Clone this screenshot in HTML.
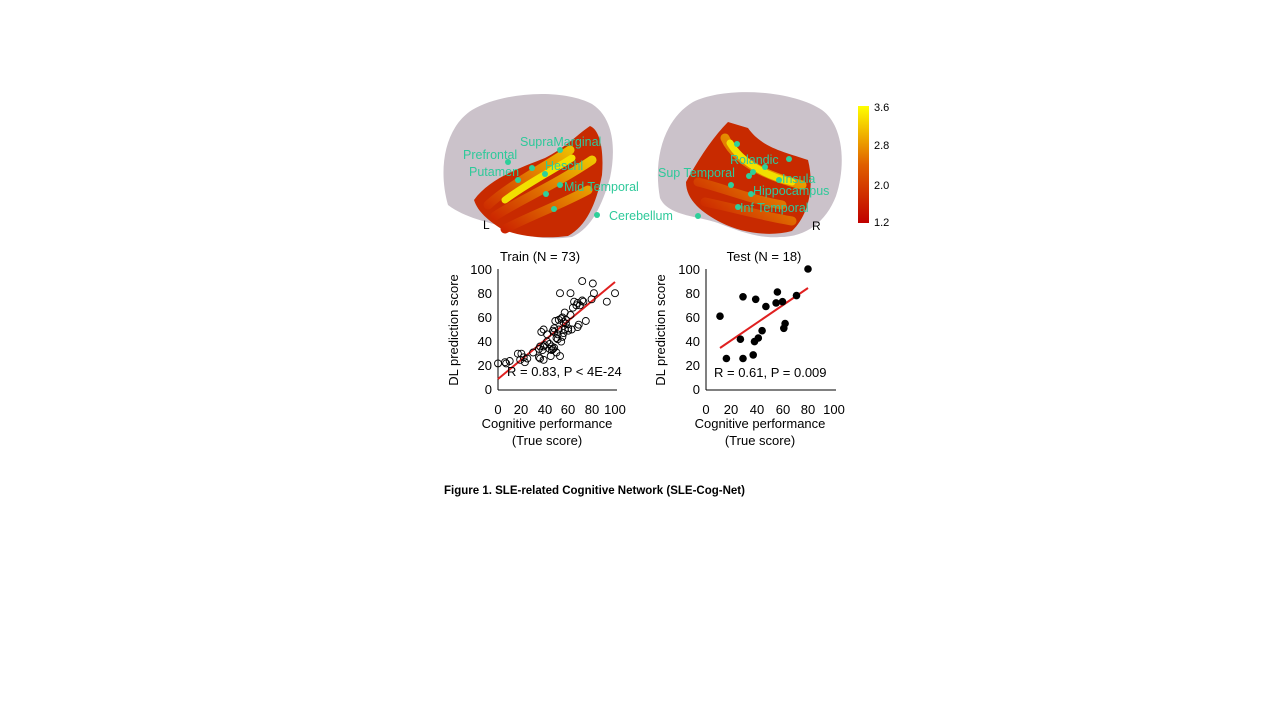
<!DOCTYPE html>
<html><head><meta charset="utf-8"><style>
html,body{margin:0;padding:0;background:#fff;}
svg{display:block;font-family:"Liberation Sans",sans-serif;}
</style></head><body>
<svg width="1280" height="720" viewBox="0 0 1280 720" xmlns="http://www.w3.org/2000/svg">
<defs>
<linearGradient id="cb" x1="0" y1="1" x2="0" y2="0">
<stop offset="0" stop-color="#c00000"/><stop offset="0.5" stop-color="#e06000"/><stop offset="1" stop-color="#ffff00"/>
</linearGradient>
<linearGradient id="act" x1="0" y1="1" x2="1" y2="0">
<stop offset="0" stop-color="#c81800"/><stop offset="0.5" stop-color="#e07000"/><stop offset="1" stop-color="#f0d000"/>
</linearGradient>
</defs>
<!-- Left brain -->
<path d="M448,205 C438,170 444,128 472,110 C502,92 562,88 592,104 C614,118 616,150 610,178 C602,205 592,228 572,237 C550,240 525,238 508,228 C488,222 465,218 448,205 Z" fill="#cbc2ca"/>
<path d="M474,200 C490,178 520,168 545,158 C565,148 578,134 590,126 C600,130 604,150 602,175 C596,205 586,226 568,236 C545,239 518,237 500,228 C488,220 478,212 474,200 Z" fill="#c82a00"/>
<path d="M488,205 C510,185 540,170 570,150 M495,216 C520,200 555,185 592,160 M505,229 C530,216 560,205 588,190" stroke="url(#act)" stroke-width="9" fill="none" stroke-linecap="round"/>
<path d="M505,200 C525,185 545,175 572,158" stroke="#f2e000" stroke-width="7" fill="none" stroke-linecap="round"/>
<!-- Right brain -->
<path d="M660,198 C653,160 663,120 693,102 C725,86 792,90 822,110 C844,126 846,166 836,196 C826,222 806,237 780,237 C760,239 738,231 718,223 C698,216 668,216 660,198 Z" fill="#cbc2ca"/>
<path d="M686,182 C698,160 712,138 728,122 L748,128 C762,148 785,152 808,160 C815,188 808,216 792,231 C770,237 742,233 722,223 C702,213 686,200 686,182 Z" fill="#c82a00"/>
<path d="M698,182 C720,187 752,200 782,205 M705,202 C730,207 762,216 792,221 M725,138 C735,160 762,175 802,185" stroke="url(#act)" stroke-width="9" fill="none" stroke-linecap="round"/>
<path d="M730,143 C740,160 762,175 792,182" stroke="#f2e000" stroke-width="7" fill="none" stroke-linecap="round"/>
<!-- dots -->
<g fill="#2ecf9a">
<circle cx="560" cy="150" r="3"/><circle cx="508" cy="162" r="3"/><circle cx="532" cy="168" r="3"/><circle cx="545" cy="174" r="3"/><circle cx="518" cy="180" r="3"/><circle cx="560" cy="185" r="3"/><circle cx="546" cy="194" r="3"/><circle cx="554" cy="209" r="3"/>
<circle cx="597" cy="215" r="3"/><circle cx="698" cy="216" r="3"/>
<circle cx="737" cy="144" r="3"/><circle cx="789" cy="159" r="3"/><circle cx="765" cy="167" r="3"/><circle cx="753" cy="172" r="3"/><circle cx="749" cy="176" r="3"/><circle cx="779" cy="180" r="3"/><circle cx="731" cy="185" r="3"/><circle cx="751" cy="194" r="3"/><circle cx="738" cy="207" r="3"/>
</g>
<g fill="#2ec99a" font-size="12.5">
<text x="520" y="146">SupraMarginal</text>
<text x="463" y="159">Prefrontal</text>
<text x="469" y="176">Putamen</text>
<text x="545" y="170">Heschl</text>
<text x="564" y="191">Mid Temporal</text>
<text x="609" y="220">Cerebellum</text>
<text x="730" y="164">Rolandic</text>
<text x="658" y="177">Sup Temporal</text>
<text x="782" y="183">Insula</text>
<text x="753" y="195">Hippocampus</text>
<text x="740" y="212">Inf Temporal</text>
</g>
<text x="483" y="229" font-size="12" fill="#000">L</text>
<text x="812" y="230" font-size="12" fill="#000">R</text>
<rect x="858" y="106" width="11" height="117" fill="url(#cb)"/>
<g font-size="11" fill="#000">
<text x="874" y="111">3.6</text><text x="874" y="149">2.8</text><text x="874" y="189">2.0</text><text x="874" y="226">1.2</text>
</g>
<g font-size="13" fill="#000">
<text x="540" y="261" text-anchor="middle">Train (N = 73)</text>
<text x="764" y="261" text-anchor="middle">Test (N = 18)</text>
</g>
<g stroke="#000" stroke-width="1">
<line x1="498" y1="269" x2="498" y2="390"/><line x1="498" y1="390" x2="617" y2="390"/>
<line x1="706" y1="269" x2="706" y2="390"/><line x1="706" y1="390" x2="836" y2="390"/>
</g>
<g font-size="13" fill="#000" text-anchor="end">
<text x="492" y="394">0</text><text x="492" y="370">20</text><text x="492" y="346">40</text><text x="492" y="322">60</text><text x="492" y="298">80</text><text x="492" y="274">100</text>
<text x="700" y="394">0</text><text x="700" y="370">20</text><text x="700" y="346">40</text><text x="700" y="322">60</text><text x="700" y="298">80</text><text x="700" y="274">100</text>
</g>
<g font-size="13" fill="#000" text-anchor="middle">
<text x="498" y="414">0</text><text x="521" y="414">20</text><text x="545" y="414">40</text><text x="568" y="414">60</text><text x="592" y="414">80</text><text x="615" y="414">100</text>
<text x="706" y="414">0</text><text x="731" y="414">20</text><text x="757" y="414">40</text><text x="783" y="414">60</text><text x="808" y="414">80</text><text x="834" y="414">100</text>
<text x="547" y="428">Cognitive performance</text><text x="547" y="445">(True score)</text>
<text x="760" y="428">Cognitive performance</text><text x="760" y="445">(True score)</text>
<text transform="translate(458,330) rotate(-90)">DL prediction score</text>
<text transform="translate(665,330) rotate(-90)">DL prediction score</text>
</g>
<line x1="498" y1="379" x2="615" y2="282" stroke="#e02020" stroke-width="2"/>
<line x1="720" y1="348" x2="808" y2="288" stroke="#e02020" stroke-width="2"/>
<g font-size="13" fill="#000">
<text x="507" y="376">R = 0.83,  P &lt; 4E-24</text>
<text x="714" y="377">R = 0.61,  P = 0.009</text>
</g>
<text x="444" y="494" font-size="11.5" font-weight="bold" fill="#000">Figure 1. SLE-related Cognitive Network (SLE-Cog-Net)</text>
<g fill="none" stroke="#000" stroke-width="0.9">
<circle cx="498.0" cy="363.4" r="3.5"/><circle cx="505.0" cy="362.2" r="3.5"/><circle cx="506.2" cy="363.4" r="3.5"/><circle cx="509.7" cy="361.0" r="3.5"/><circle cx="517.9" cy="353.7" r="3.5"/><circle cx="520.2" cy="359.8" r="3.5"/><circle cx="521.4" cy="353.7" r="3.5"/><circle cx="523.7" cy="357.3" r="3.5"/><circle cx="524.9" cy="362.2" r="3.5"/><circle cx="533.1" cy="352.5" r="3.5"/><circle cx="539.0" cy="357.3" r="3.5"/><circle cx="540.1" cy="358.5" r="3.5"/><circle cx="540.1" cy="346.4" r="3.5"/><circle cx="541.3" cy="331.9" r="3.5"/><circle cx="543.6" cy="359.8" r="3.5"/><circle cx="543.6" cy="346.4" r="3.5"/><circle cx="543.6" cy="329.5" r="3.5"/><circle cx="547.1" cy="334.3" r="3.5"/><circle cx="549.5" cy="348.9" r="3.5"/><circle cx="550.7" cy="356.1" r="3.5"/><circle cx="551.8" cy="346.4" r="3.5"/><circle cx="553.0" cy="348.9" r="3.5"/><circle cx="553.0" cy="330.7" r="3.5"/><circle cx="554.2" cy="347.7" r="3.5"/><circle cx="554.2" cy="328.3" r="3.5"/><circle cx="555.3" cy="321.0" r="3.5"/><circle cx="556.5" cy="338.0" r="3.5"/><circle cx="556.5" cy="352.5" r="3.5"/><circle cx="557.7" cy="334.3" r="3.5"/><circle cx="557.7" cy="339.2" r="3.5"/><circle cx="558.8" cy="319.8" r="3.5"/><circle cx="560.0" cy="356.1" r="3.5"/><circle cx="560.0" cy="293.2" r="3.5"/><circle cx="561.2" cy="341.6" r="3.5"/><circle cx="561.2" cy="318.6" r="3.5"/><circle cx="562.4" cy="317.4" r="3.5"/><circle cx="563.5" cy="333.1" r="3.5"/><circle cx="564.7" cy="312.6" r="3.5"/><circle cx="564.7" cy="329.5" r="3.5"/><circle cx="565.9" cy="319.8" r="3.5"/><circle cx="568.2" cy="330.7" r="3.5"/><circle cx="568.2" cy="328.3" r="3.5"/><circle cx="570.5" cy="293.2" r="3.5"/><circle cx="571.7" cy="329.5" r="3.5"/><circle cx="572.9" cy="307.7" r="3.5"/><circle cx="574.1" cy="301.7" r="3.5"/><circle cx="576.4" cy="305.3" r="3.5"/><circle cx="577.6" cy="302.9" r="3.5"/><circle cx="577.6" cy="327.1" r="3.5"/><circle cx="578.7" cy="324.7" r="3.5"/><circle cx="582.2" cy="281.1" r="3.5"/><circle cx="582.2" cy="300.5" r="3.5"/><circle cx="583.4" cy="301.7" r="3.5"/><circle cx="585.8" cy="321.0" r="3.5"/><circle cx="591.6" cy="299.3" r="3.5"/><circle cx="592.8" cy="283.5" r="3.5"/><circle cx="593.9" cy="293.2" r="3.5"/><circle cx="606.8" cy="301.7" r="3.5"/><circle cx="615.0" cy="293.2" r="3.5"/><circle cx="549.5" cy="344.0" r="3.5"/><circle cx="544.8" cy="345.2" r="3.5"/><circle cx="539.0" cy="348.9" r="3.5"/><circle cx="527.3" cy="358.5" r="3.5"/><circle cx="554.2" cy="331.9" r="3.5"/><circle cx="547.1" cy="341.6" r="3.5"/><circle cx="565.9" cy="323.5" r="3.5"/><circle cx="570.5" cy="315.0" r="3.5"/><circle cx="579.9" cy="305.3" r="3.5"/><circle cx="558.8" cy="329.5" r="3.5"/><circle cx="563.5" cy="322.2" r="3.5"/><circle cx="542.5" cy="350.1" r="3.5"/><circle cx="551.8" cy="350.1" r="3.5"/><circle cx="562.4" cy="336.8" r="3.5"/>
</g>
<g fill="#000">
<circle cx="720.0" cy="316.2" r="3.8"/><circle cx="726.4" cy="358.5" r="3.8"/><circle cx="740.4" cy="339.2" r="3.8"/><circle cx="743.0" cy="358.5" r="3.8"/><circle cx="743.0" cy="296.8" r="3.8"/><circle cx="753.2" cy="354.9" r="3.8"/><circle cx="754.5" cy="341.6" r="3.8"/><circle cx="755.7" cy="299.3" r="3.8"/><circle cx="758.3" cy="338.0" r="3.8"/><circle cx="762.1" cy="330.7" r="3.8"/><circle cx="765.9" cy="306.5" r="3.8"/><circle cx="776.1" cy="302.9" r="3.8"/><circle cx="777.4" cy="292.0" r="3.8"/><circle cx="782.5" cy="301.7" r="3.8"/><circle cx="783.8" cy="328.3" r="3.8"/><circle cx="785.1" cy="323.5" r="3.8"/><circle cx="796.5" cy="295.6" r="3.8"/><circle cx="808.0" cy="269.0" r="3.8"/>
</g>
</svg>
</body></html>
